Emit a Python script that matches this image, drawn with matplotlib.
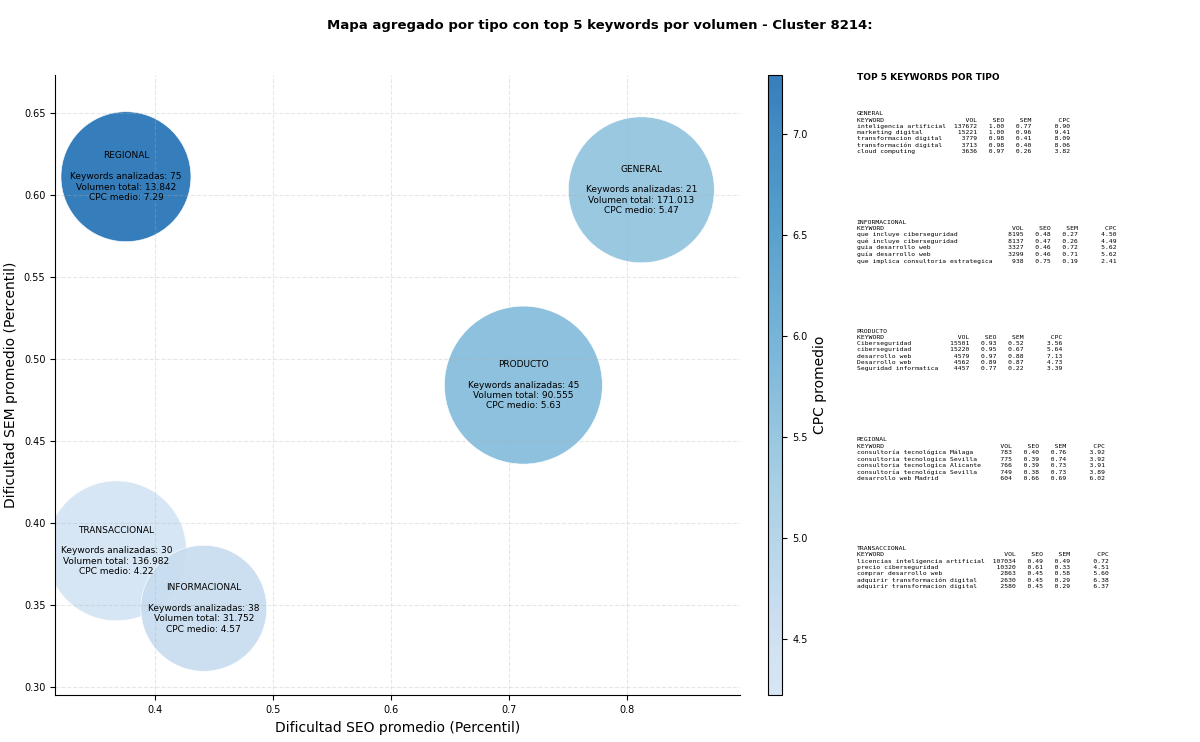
import matplotlib
matplotlib.use("Agg")
import matplotlib.pyplot as plt
from matplotlib.colors import LinearSegmentedColormap
import numpy as np

tipos = ["REGIONAL", "GENERAL", "PRODUCTO", "TRANSACCIONAL", "INFORMACIONAL"]
seo = [0.375, 0.812, 0.712, 0.367, 0.441]
sem = [0.611, 0.603, 0.484, 0.383, 0.348]
n_kw = [75, 21, 45, 30, 38]
vol_total = ["13.842", "171.013", "90.555", "136.982", "31.752"]
cpc = [7.29, 5.47, 5.63, 4.22, 4.57]
radio_px = [65, 73, 79, 70, 63]

top_tipos = ["GENERAL", "INFORMACIONAL", "PRODUCTO", "REGIONAL", "TRANSACCIONAL"]
top_kw = [
    ["inteligencia artificial", "marketing digital", "transformacion digital",
     "transformación digital", "cloud computing"],
    ["que incluye ciberseguridad", "qué incluye ciberseguridad", "guia desarrollo web",
     "guía desarrollo web", "que implica consultoria estrategica"],
    ["Ciberseguridad", "ciberseguridad", "desarrollo web", "Desarrollo web",
     "Seguridad informatica"],
    ["consultoría tecnológica Málaga", "consultoria tecnologica Sevilla",
     "consultoria tecnologica Alicante", "consultoría tecnológica Sevilla",
     "desarrollo web Madrid"],
    ["licencias inteligencia artificial", "precio ciberseguridad", "comprar desarrollo web",
     "adquirir transformación digital", "adquirir transformacion digital"],
]
top_vol = [[137672, 15221, 3779, 3713, 3636],
           [8195, 8137, 3327, 3299, 938],
           [15501, 15220, 4579, 4562, 4457],
           [783, 775, 766, 749, 604],
           [107034, 10320, 2863, 2630, 2580]]
top_seo = [[1.00, 1.00, 0.98, 0.98, 0.97],
           [0.48, 0.47, 0.46, 0.46, 0.75],
           [0.93, 0.95, 0.97, 0.89, 0.77],
           [0.40, 0.39, 0.39, 0.38, 0.66],
           [0.49, 0.61, 0.45, 0.45, 0.45]]
top_sem = [[0.77, 0.96, 0.41, 0.40, 0.26],
           [0.27, 0.26, 0.72, 0.71, 0.19],
           [0.52, 0.67, 0.88, 0.87, 0.22],
           [0.76, 0.74, 0.73, 0.73, 0.69],
           [0.49, 0.33, 0.58, 0.29, 0.29]]
top_cpc = [[0.90, 9.41, 8.09, 8.06, 3.82],
           [4.50, 4.49, 5.62, 5.62, 2.41],
           [3.56, 5.64, 7.13, 4.73, 3.39],
           [3.92, 3.92, 3.91, 3.89, 6.02],
           [0.72, 4.51, 5.60, 6.38, 6.37]]

# Blues recortado: de azul muy claro a azul medio
blues = plt.get_cmap("Blues")
cmap = LinearSegmentedColormap.from_list("blues_cut", blues(np.linspace(0.18, 0.75, 256)))

fig = plt.figure(figsize=(12, 7.42), dpi=100)
ax = fig.add_axes([0.046, 0.063, 0.571, 0.836])
cax = fig.add_axes([0.640, 0.063, 0.012, 0.836])

sizes = [(2 * r * 0.72) ** 2 for r in radio_px]
sc = ax.scatter(seo, sem, s=sizes, c=cpc, cmap=cmap, vmin=4.22, vmax=7.29,
                alpha=0.9, edgecolors="white", linewidths=0.5)
for t, x, y, n, v, c in zip(tipos, seo, sem, n_kw, vol_total, cpc):
    ax.text(x, y, f"{t}\n\nKeywords analizadas: {n}\nVolumen total: {v}\nCPC medio: {c:.2f}",
            ha="center", va="center", fontsize=6.5)

ax.set_xlim(0.315, 0.896)
ax.set_ylim(0.295, 0.673)
ax.set_xticks([0.4, 0.5, 0.6, 0.7, 0.8])
ax.set_xticklabels(["0.4", "0.5", "0.6", "0.7", "0.8"])
ax.tick_params(labelsize=7)
ax.set_xlabel("Dificultad SEO promedio (Percentil)", fontsize=10)
ax.set_ylabel("Dificultad SEM promedio (Percentil)", fontsize=10)
ax.grid(alpha=0.3, linestyle="--")
ax.spines["top"].set_visible(False)
ax.spines["right"].set_visible(False)

cb = fig.colorbar(sc, cax=cax)
cb.set_label("CPC promedio", fontsize=10)
cb.ax.tick_params(labelsize=7)

fig.suptitle("Mapa agregado por tipo con top 5 keywords por volumen - Cluster 8214:",
             fontsize=9.5, fontweight="bold", y=0.975)

fig.text(0.714, 0.895, "TOP 5 KEYWORDS POR TIPO", fontsize=6.5, fontweight="bold",
         va="center")
y0 = 0.85
for i, t in enumerate(top_tipos):
    w = max(len(k) for k in top_kw[i])
    lines = [t, "KEYWORD".ljust(w) + f"{'VOL':>8}{'SEO':>7}{'SEM':>7}{'CPC':>10}"]
    for k, v, s1, s2, c in zip(top_kw[i], top_vol[i], top_seo[i], top_sem[i], top_cpc[i]):
        lines.append(k.ljust(w) + f"{v:>8}{s1:>7.2f}{s2:>7.2f}{c:>10.2f}")
    fig.text(0.714, y0 - i * 0.1465, "\n".join(lines), family="DejaVu Sans Mono",
             fontsize=4.6, va="top", linespacing=1.3)

fig.savefig("out.png", dpi=100)
